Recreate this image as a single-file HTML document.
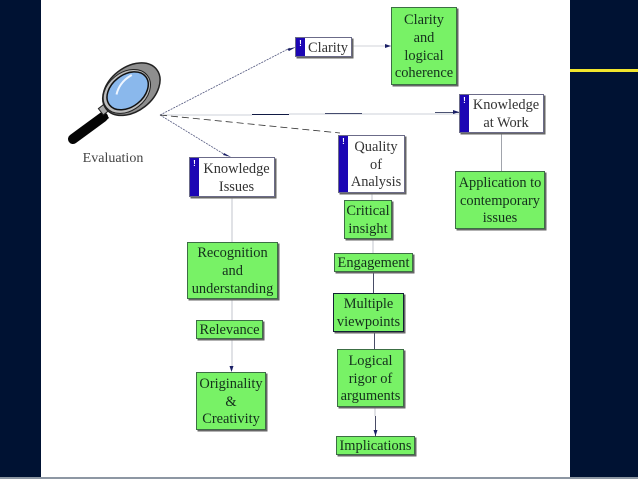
<!DOCTYPE html>
<html><head><meta charset="utf-8"><style>
html,body{margin:0;padding:0;background:#001233}
#p{position:relative;width:638px;height:479px;overflow:hidden;background:#001233;font-family:"Liberation Serif",serif;font-size:14.4px;line-height:17.7px;color:#14301c;filter:blur(0.35px)}
#w{position:absolute;left:41px;top:0;width:529px;height:477px;background:#fff}
#b{position:absolute;left:0;top:477px;width:638px;height:2px;background:#8d97a3}
#y{position:absolute;left:570px;top:69px;width:68px;height:2.500px;background:#f2e52c}
.n{position:absolute;box-sizing:border-box;text-align:center;display:flex;align-items:center;justify-content:center;box-shadow:1.500px 1.500px 0 #666;padding-top:3px}
.g{background:#78f266;border:1px solid #3c6e44}
.h{background:#fff;border:1px solid #6b6b88;color:#333}
.h i{position:absolute;left:0;top:0;bottom:0;width:9px;background:#1c06b4;color:#fff;font:bold 8px/12px "Liberation Sans",sans-serif;text-align:center}
svg{position:absolute;left:0;top:0}
</style></head><body><div id="p">
<div id="w"></div><div id="b"></div><div id="y"></div>
<svg width="638" height="479" viewBox="0 0 638 479" fill="none">
<g stroke="#555a80" stroke-width="0.8">
<path d="M160 115L290 48" stroke-dasharray="2 1"/>
<path d="M160 115L227 156" stroke-dasharray="2 1"/>
<path d="M160 115H252" stroke="#bcc0cc"/>
<path d="M252 114.500H289" stroke="#111a44" stroke-width="1"/>
<path d="M289 114H460" stroke="#bcc0cc"/>
<path d="M325 113.500H362M435 112.500H459" stroke="#111a44"/>
<path d="M160 115L340 133" stroke="#333" stroke-dasharray="7 4"/>
<path d="M352 46H391" stroke="#c0c4cc"/>
<path d="M232 197V242M232 299V320M232 339V370" stroke="#b4b8c0"/>
<path d="M372 193V200M373 239V253" stroke="#b4b8c0"/>
<path d="M373.500 272V293M374.500 332V349" stroke="#1c2040"/>
<path d="M375 407V416" stroke="#b4b8c0"/>
<path d="M375.500 416V436" stroke="#1c2040"/>
<path d="M501.500 133V171" stroke="#8a8e98"/>
</g>
<g fill="#1a1f66">
<path d="M296 47L287 49L289 51Z"/><path d="M231 157L224 153L223 155Z"/><path d="M391 46L385 44V48Z"/><path d="M459 112L453 110V114Z"/><path d="M231.500 372L229.500 366H233.500Z"/><path d="M375.500 436L373.500 430H377.500Z"/>
</g>
<path d="M73 139L103 117" stroke="#050505" stroke-width="10" stroke-linecap="round"/>
<path d="M96 118L104 110L109 118L101 124Z" fill="#050505"/>
<g transform="translate(130 89) rotate(-38)">
<rect x="-37" y="-4" width="8" height="8" fill="#aaa" stroke="#222"/>
<ellipse cx="1" cy="1" rx="32" ry="22" fill="#8e8e8e" stroke="#222" stroke-width="1.500"/>
<ellipse cx="-4" cy="0" rx="26" ry="19" fill="#bdbdbd" stroke="#222" stroke-width="1"/>
<ellipse cx="-3" cy="0" rx="23" ry="16" fill="#8ab8ec" stroke="#111" stroke-width="1.500"/>
<path d="M-14 -4Q-4 -12 10 -10" stroke="#eef5ff" stroke-width="2"/>
</g>
</svg>
<div class="n h" style="left:295px;top:37px;width:57px;height:20px;padding-left:9px"><i>!</i>Clarity</div>
<div class="n g" style="left:391px;top:7px;width:66px;height:78px">Clarity<br>and<br>logical<br>coherence</div>
<div class="n h" style="left:459px;top:94px;width:85px;height:39px;padding-left:9px"><i>!</i><span>Knowledge<br>at Work</span></div>
<div class="n h" style="left:338px;top:135px;width:67px;height:58px;padding-left:9px"><i>!</i><span>Quality<br>of<br>Analysis</span></div>
<div class="n g" style="left:344px;top:200px;width:48px;height:39px">Critical<br>insight</div>
<div class="n g" style="left:455px;top:171px;width:90px;height:58px">Application to<br>contemporary<br>issues</div>
<div class="n h" style="left:189px;top:157px;width:86px;height:40px;padding-left:9px"><i>!</i><span>Knowledge<br>Issues</span></div>
<div class="n g" style="left:187px;top:242px;width:91px;height:57px">Recognition<br>and<br>understanding</div>
<div class="n g" style="left:196px;top:320px;width:67px;height:19px">Relevance</div>
<div class="n g" style="left:196px;top:372px;width:70px;height:58px">Originality<br>&amp;<br>Creativity</div>
<div class="n g" style="left:334px;top:253px;width:79px;height:19px">Engagement</div>
<div class="n g" style="left:333px;top:293px;width:71px;height:39px;border-color:#123">Multiple<br>viewpoints</div>
<div class="n g" style="left:337px;top:349px;width:67px;height:58px">Logical<br>rigor of<br>arguments</div>
<div class="n g" style="left:336px;top:436px;width:79px;height:19px">Implications</div>
<div style="position:absolute;left:74px;top:150px;width:78px;text-align:center;color:#444;font-size:14px">Evaluation</div>
</div></body></html>
